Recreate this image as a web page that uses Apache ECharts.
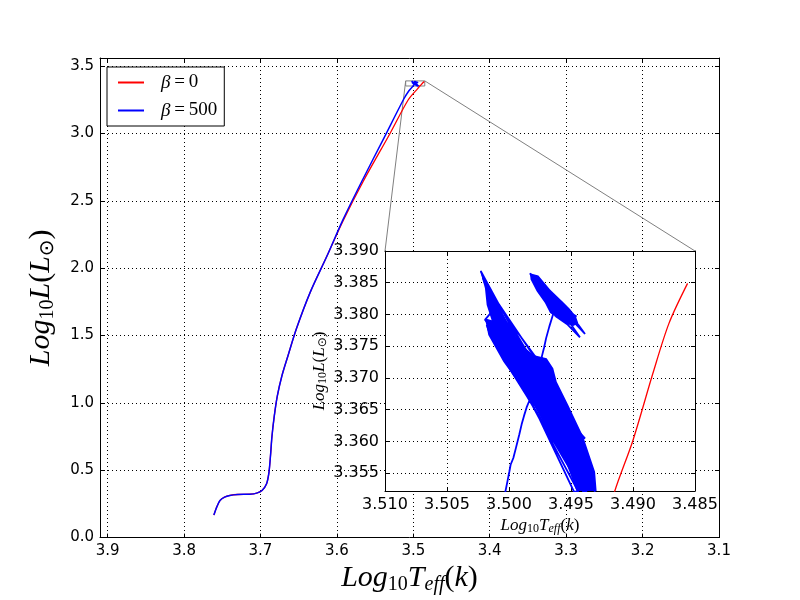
<!DOCTYPE html>
<html>
<head>
<meta charset="utf-8">
<title>HR track</title>
<script src="https://cdn.jsdelivr.net/npm/echarts@6/dist/echarts.min.js"></script>
<style>
    html, body { margin: 0; padding: 0; background: #fff; }
    #hr-chart { width: 800px; height: 600px; }
</style>
</head>
<body>
<div id="hr-chart"></div>
<script>
// [log Teff, log L] pairs
var trackCommon = [
    [3.761, 0.167], [3.757, 0.23], [3.753, 0.275], [3.747, 0.300], [3.740, 0.313],
    [3.730, 0.320], [3.714, 0.322], [3.705, 0.330], [3.698, 0.350], [3.692, 0.40],
    [3.689, 0.48], [3.687, 0.60], [3.685, 0.75], [3.682, 0.90], [3.678, 1.05],
    [3.672, 1.20], [3.664, 1.35], [3.653, 1.55], [3.635, 1.82], [3.613, 2.09]
];
var trackRedTop = [
    [3.592, 2.35], [3.566, 2.64], [3.5305, 3.00], [3.5066, 3.25], [3.4940, 3.335]
];
var insetRed = [
    [3.4915, 3.352], [3.4900, 3.3602], [3.4884, 3.3707], [3.4871, 3.3786], [3.4856, 3.3849]
];
var trackBlueTop = [
    [3.592, 2.36], [3.566, 2.66], [3.539, 2.96], [3.513, 3.25], [3.506, 3.315]
];
var insetBlueTail = [
    [3.50032, 3.35183], [3.50013, 3.35368], [3.49997, 3.35527], [3.49987, 3.35634],
    [3.49965, 3.35740], [3.49944, 3.35899], [3.49917, 3.36111], [3.49898, 3.36270],
    [3.49879, 3.36403], [3.49858, 3.36536], [3.49836, 3.36642]
];
var insetBlueBand = [
    [3.50228, 3.38685], [3.49911, 3.37546], [3.49850, 3.37400], [3.50212, 3.38579],
    [3.50194, 3.38489], [3.49750, 3.37200], [3.49680, 3.37050], [3.50175, 3.38367],
    [3.50153, 3.38245], [3.49562, 3.36589], [3.49508, 3.36419], [3.50121, 3.38085],
    [3.50194, 3.37916], [3.49589, 3.36377], [3.49535, 3.36297], [3.50180, 3.37836],
    [3.50164, 3.37746], [3.49454, 3.36085], [3.49387, 3.36048], [3.50132, 3.37640],
    [3.50099, 3.37502], [3.49508, 3.36005], [3.49428, 3.35819], [3.50067, 3.37385],
    [3.50035, 3.37289], [3.49347, 3.35421], [3.49306, 3.35209], [3.49997, 3.37162],
    [3.49960, 3.37040], [3.49374, 3.35209], [3.49401, 3.35209], [3.49917, 3.36918],
    [3.49871, 3.36785], [3.49441, 3.35209], [3.49476, 3.35209], [3.49836, 3.36695],
    [3.49857, 3.37279], [3.49602, 3.36483], [3.49696, 3.36377], [3.49965, 3.37279],
    [3.50046, 3.37544], [3.49669, 3.36642], [3.49777, 3.37120], [3.49911, 3.37385],
    [3.49992, 3.37491], [3.49616, 3.36642]
];
var insetBlueBridge = [
    [3.49736, 3.37332], [3.49717, 3.37480], [3.49701, 3.37624], [3.49675, 3.37809],
    [3.49643, 3.38011]
];
var insetBlueCluster = [
    [3.49831, 3.38648], [3.49508, 3.37995], [3.49468, 3.37889], [3.49817, 3.38579],
    [3.49790, 3.38606], [3.49441, 3.37836], [3.49387, 3.37693], [3.49763, 3.38473],
    [3.49736, 3.38500], [3.49428, 3.37640], [3.49669, 3.38128], [3.49481, 3.37926],
    [3.49629, 3.37979], [3.49522, 3.37836], [3.49696, 3.38234], [3.49454, 3.37969]
];
// outlines of the densely overplotted parts of the blue track
var bandOutline = [
    [3.50234, 3.38701], [3.50099, 3.38201], [3.49992, 3.37808], [3.49911, 3.37546],
    [3.49804, 3.37362], [3.49696, 3.37310], [3.49643, 3.37153], [3.49615, 3.36942],
    [3.49562, 3.36732], [3.49522, 3.36575], [3.49401, 3.36075], [3.49306, 3.35524],
    [3.49293, 3.35210], [3.49454, 3.35210], [3.49562, 3.35787], [3.49696, 3.36208],
    [3.49817, 3.36627], [3.49911, 3.36890], [3.50046, 3.37257], [3.50167, 3.37677],
    [3.50194, 3.37940], [3.50140, 3.37910], [3.50180, 3.38150], [3.50194, 3.38413]
];
var clusterOutline = [
    [3.49831, 3.38648], [3.49763, 3.38616], [3.49669, 3.38393], [3.49562, 3.38192],
    [3.49508, 3.38085], [3.49460, 3.37969], [3.49441, 3.37863], [3.49481, 3.37820],
    [3.49535, 3.37852], [3.49616, 3.37958], [3.49669, 3.38022], [3.49710, 3.38181],
    [3.49777, 3.38367], [3.49826, 3.38552]
];

var seriesNames = ['β=0', 'β=500'];
var seriesColors = ['#ff0000', '#0000ff'];

// axis limits
var mainTeffRange = [3.1, 3.91];
var mainLumRange = [0, 3.56];
var insetTeffRange = [3.485, 3.510];
var insetLumRange = [3.3522, 3.390];

var redTrack = trackCommon.concat(trackRedTop, insetRed);
var blueTrack = trackCommon.concat(trackBlueTop, insetBlueTail, insetBlueBand,
    insetBlueBridge, insetBlueCluster);
var blueOutlines = [bandOutline, clusterOutline];
var zoomBox = [
    [insetTeffRange[1], insetLumRange[0]], [insetTeffRange[0], insetLumRange[0]],
    [insetTeffRange[0], insetLumRange[1]], [insetTeffRange[1], insetLumRange[1]],
    [insetTeffRange[1], insetLumRange[0]]
];

var MATH = 'Liberation Serif';

function mathRich(size) {
    var sub = Math.round(size * 0.68);
    var drop = Math.round(size * 0.42);
    return {
        i: { fontFamily: MATH, fontStyle: 'italic', fontSize: size, color: '#000' },
        r: { fontFamily: MATH, fontSize: size, color: '#000' },
        s: { fontFamily: MATH, fontSize: sub, color: '#000', padding: [drop, 0, 0, 0] },
        si: { fontFamily: MATH, fontStyle: 'italic', fontSize: sub, color: '#000', padding: [drop, 0, 0, 0] },
        sun: { fontFamily: 'DejaVu Sans', fontSize: sub, color: '#000', padding: [drop, 0, 0, 0] }
    };
}

var teffName = '{i|Log}{s|10}{i|T}{si|eff}{r|(}{i|k}{r|)}';
var lumName = '{i|Log}{s|10}{i|L}{r|(}{i|L}{sun|⊙}{r|)}';

function onStep(v, step) {
    var k = v / step;
    return Math.abs(k - Math.round(k)) < 1e-6;
}

var gridLine = { show: true, lineStyle: { color: '#000', type: [1, 3], width: 1 } };
var blackLine = { show: true, onZero: false, lineStyle: { color: '#000', width: 1 } };
var innerTick = { show: true, inside: true, length: 4, lineStyle: { color: '#000' } };

function tickOnlyAxis(extra) {
    var ax = {
        type: 'value',
        axisLine: blackLine,
        axisTick: innerTick,
        axisLabel: { show: false },
        splitLine: { show: false }
    };
    for (var k in extra) { ax[k] = extra[k]; }
    return ax;
}

var chart = echarts.init(document.getElementById('hr-chart'));

var option = {
    animation: false,
    backgroundColor: '#fff',
    grid: [
        { left: 100, right: 81, top: 58, bottom: 60 },
        { left: 385, right: 105, top: 251, bottom: 109, show: true,
          backgroundColor: '#fff', borderWidth: 0, z: 1 }
    ],
    legend: {
        data: seriesNames.map(function (n) { return { name: n, icon: 'rect' }; }),
        orient: 'vertical',
        left: 107,
        top: 67,
        padding: [6, 7, 6, 11],
        itemGap: 9,
        itemWidth: 26,
        itemHeight: 2,
        backgroundColor: '#fff',
        borderColor: '#000',
        borderWidth: 1,
        borderRadius: 0,
        formatter: function (name) {
            var p = name.split('=');
            return '{g|' + p[0] + '}{r|\u2009=\u2009' + p[1] + '}';
        },
        textStyle: {
            padding: [0, 0, 0, 12],
            rich: {
                g: { fontFamily: MATH, fontStyle: 'italic', fontSize: 19, lineHeight: 20, color: '#000' },
                r: { fontFamily: MATH, fontSize: 19, lineHeight: 20, color: '#000' }
            }
        }
    },
    xAxis: [
        {
            type: 'value', gridIndex: 0, inverse: true,
            min: mainTeffRange[0], max: mainTeffRange[1], interval: 0.1,
            axisLine: blackLine,
            axisTick: innerTick,
            axisLabel: {
                color: '#000', fontFamily: 'DejaVu Sans', fontSize: 15, margin: 6,
                formatter: function (v) { return onStep(v, 0.1) ? v.toFixed(1) : ''; }
            },
            splitLine: gridLine,
            name: teffName, nameLocation: 'middle', nameGap: 24,
            nameTextStyle: { rich: mathRich(30) }
        },
        tickOnlyAxis({ gridIndex: 0, position: 'top', inverse: true,
            min: mainTeffRange[0], max: mainTeffRange[1], interval: 0.1 }),
        {
            type: 'value', gridIndex: 1, inverse: true, z: 1,
            min: insetTeffRange[0], max: insetTeffRange[1], interval: 0.005,
            axisLine: blackLine,
            axisTick: innerTick,
            axisLabel: {
                color: '#000', fontFamily: 'DejaVu Sans', fontSize: 16, margin: 6,
                formatter: function (v) { return onStep(v, 0.005) ? v.toFixed(3) : ''; }
            },
            splitLine: gridLine,
            name: teffName, nameLocation: 'middle', nameGap: 25,
            nameTextStyle: { rich: mathRich(17) }
        },
        tickOnlyAxis({ gridIndex: 1, position: 'top', inverse: true, z: 1,
            min: insetTeffRange[0], max: insetTeffRange[1], interval: 0.005 })
    ],
    yAxis: [
        {
            type: 'value', gridIndex: 0,
            min: mainLumRange[0], max: mainLumRange[1], interval: 0.5,
            axisLine: blackLine,
            axisTick: innerTick,
            axisLabel: {
                color: '#000', fontFamily: 'DejaVu Sans', fontSize: 15, margin: 6,
                formatter: function (v) { return onStep(v, 0.5) ? v.toFixed(1) : ''; }
            },
            splitLine: gridLine,
            name: lumName, nameLocation: 'middle', nameGap: 42, nameRotate: 90,
            nameTextStyle: { rich: mathRich(30) }
        },
        tickOnlyAxis({ gridIndex: 0, position: 'right',
            min: mainLumRange[0], max: mainLumRange[1], interval: 0.5 }),
        {
            type: 'value', gridIndex: 1, z: 1,
            min: insetLumRange[0], max: insetLumRange[1], splitNumber: 7,
            axisLine: blackLine,
            axisTick: innerTick,
            axisLabel: {
                color: '#000', fontFamily: 'DejaVu Sans', fontSize: 16, margin: 6,
                formatter: function (v) { return onStep(v, 0.005) ? v.toFixed(3) : ''; }
            },
            splitLine: gridLine,
            name: lumName, nameLocation: 'middle', nameGap: 54, nameRotate: 90,
            nameTextStyle: { rich: mathRich(17) }
        },
        tickOnlyAxis({ gridIndex: 1, position: 'right', z: 1,
            min: insetLumRange[0], max: insetLumRange[1], splitNumber: 7 })
    ],
    series: [
        {
            name: seriesNames[0], type: 'line', xAxisIndex: 0, yAxisIndex: 0,
            data: redTrack, symbol: 'none', smooth: 0.3, color: seriesColors[0],
            lineStyle: { width: 1.3, color: seriesColors[0] }
        },
        {
            name: seriesNames[1], type: 'line', xAxisIndex: 0, yAxisIndex: 0,
            data: blueTrack, symbol: 'none', smooth: 0.3, color: seriesColors[1],
            lineStyle: { width: 1.5, color: seriesColors[1] }
        },
        {
            name: 'zoom', type: 'line', xAxisIndex: 0, yAxisIndex: 0, z: 1,
            data: zoomBox, symbol: 'none', silent: true,
            lineStyle: { width: 1, color: '#808080' }
        },
        {
            name: seriesNames[0], type: 'line', xAxisIndex: 2, yAxisIndex: 2, z: 3,
            data: redTrack, symbol: 'none', smooth: 0.3, color: seriesColors[0], clip: true,
            lineStyle: { width: 1.3, color: seriesColors[0] }
        },
        {
            name: seriesNames[1], type: 'line', xAxisIndex: 2, yAxisIndex: 2, z: 3,
            data: blueTrack, symbol: 'none', color: seriesColors[1], clip: true,
            lineStyle: { width: 1.8, color: seriesColors[1] }
        },
        {
            name: 'blue fill', type: 'custom', xAxisIndex: 2, yAxisIndex: 2, z: 3,
            clip: true, silent: true,
            data: blueOutlines.map(function (o, i) { return [o[0][0], o[0][1], i]; }),
            renderItem: function (params, api) {
                var outline = blueOutlines[params.dataIndex];
                return {
                    type: 'polygon',
                    shape: { points: outline.map(function (p) { return api.coord(p); }) },
                    style: { fill: seriesColors[1] }
                };
            }
        }
    ]
};
chart.setOption(option);

// connector lines from the zoom box to the inset corners
var corners = [[insetTeffRange[1], insetLumRange[1]], [insetTeffRange[0], insetLumRange[1]]];
var links = corners.map(function (c) {
    var a = chart.convertToPixel({ xAxisIndex: 0, yAxisIndex: 0 }, c);
    var b = chart.convertToPixel({ xAxisIndex: 2, yAxisIndex: 2 }, c);
    return {
        type: 'line', z: 1, silent: true,
        shape: { x1: a[0], y1: a[1], x2: b[0], y2: b[1] },
        style: { stroke: '#808080', lineWidth: 1 }
    };
});
chart.setOption({ graphic: links });
</script>
</body>
</html>
